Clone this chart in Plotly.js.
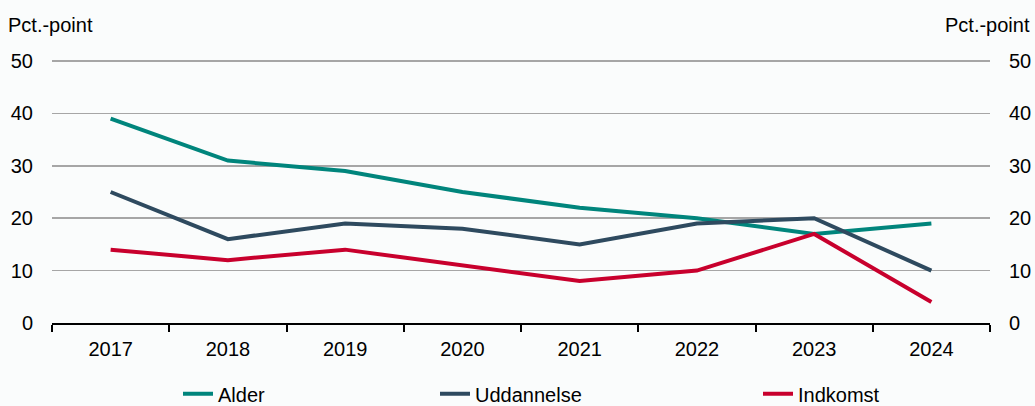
<!DOCTYPE html>
<html>
<head>
<meta charset="utf-8">
<script src="https://cdn.plot.ly/plotly-3.0.1.min.js"></script>
<style>html,body{margin:0;padding:0;background:#fafcfc;}#chart{width:1035px;height:406px;}</style>
</head>
<body>
<div id="chart"></div>
<script>
const years = ['2017','2018','2019','2020','2021','2022','2023','2024'];
const alder = [39, 31, 29, 25, 22, 20, 17, 19];
const uddannelse = [25, 16, 19, 18, 15, 19, 20, 10];
const indkomst = [14, 12, 14, 11, 8, 10, 17, 4];
const yTicks = [0, 10, 20, 30, 40, 50];
const unitLabel = 'Pct.-point';

const font = {family: 'Liberation Sans, Arial, sans-serif', size: 20, color: '#000'};

const traces = [
  {x: years, y: alder, name: 'Alder', type: 'scatter', mode: 'lines',
   line: {color: '#00857c', width: 4}, legend: 'legend'},
  {x: years, y: uddannelse, name: 'Uddannelse', type: 'scatter', mode: 'lines',
   line: {color: '#2e4a5f', width: 4}, legend: 'legend2'},
  {x: years, y: indkomst, name: 'Indkomst', type: 'scatter', mode: 'lines',
   line: {color: '#c8002d', width: 4}, legend: 'legend3'},
  {x: years, y: alder, yaxis: 'y2', type: 'scatter', mode: 'lines',
   line: {width: 0}, opacity: 0, showlegend: false, hoverinfo: 'skip'}
];

const legendBase = {orientation: 'h', xref: 'paper', yref: 'container', y: 0.03,
  yanchor: 'middle', xanchor: 'left', bgcolor: 'rgba(0,0,0,0)', font: font,
  itemwidth: 30};

const yr = [0, 50.38];

const layout = {
  width: 1035, height: 406,
  paper_bgcolor: '#fafcfc', plot_bgcolor: '#fafcfc',
  margin: {l: 52, r: 45, t: 59, b: 83},
  font: font,
  xaxis: {
    type: 'category', range: [-0.5, 7.5], autorange: false,
    showline: true, linecolor: '#000', linewidth: 2,
    ticks: 'outside', tickson: 'boundaries', ticklen: 7, tickwidth: 2, tickcolor: '#000',
    showgrid: false, zeroline: false, tickfont: font, ticklabelstandoff: 7
  },
  yaxis: {
    range: yr, autorange: false, tickvals: yTicks, ticktext: yTicks.map(String),
    showgrid: true, gridcolor: '#a6a6a6', gridwidth: 1.5, zeroline: false,
    showline: false, ticks: '', tickfont: font, ticklabelstandoff: 18
  },
  yaxis2: {
    range: yr, autorange: false, tickvals: yTicks, ticktext: yTicks.map(String),
    overlaying: 'y', side: 'right', showgrid: false, zeroline: false,
    showline: false, ticks: '', tickfont: font, ticklabelstandoff: 18
  },
  legend: Object.assign({}, legendBase, {x: (178 - 52) / 938}),
  legend2: Object.assign({}, legendBase, {x: (435 - 52) / 938}),
  legend3: Object.assign({}, legendBase, {x: (758 - 52) / 938}),
  annotations: [
    {text: unitLabel, xref: 'paper', yref: 'paper', x: -46 / 938, y: 1 + 34 / 264,
     xanchor: 'left', yanchor: 'middle', showarrow: false, font: font},
    {text: unitLabel, xref: 'paper', yref: 'paper', x: 1 + 42 / 938, y: 1 + 34 / 264,
     xanchor: 'right', yanchor: 'middle', showarrow: false, font: font}
  ],
  showlegend: true
};

Plotly.newPlot('chart', traces, layout, {displayModeBar: false, staticPlot: true});
</script>
</body>
</html>
